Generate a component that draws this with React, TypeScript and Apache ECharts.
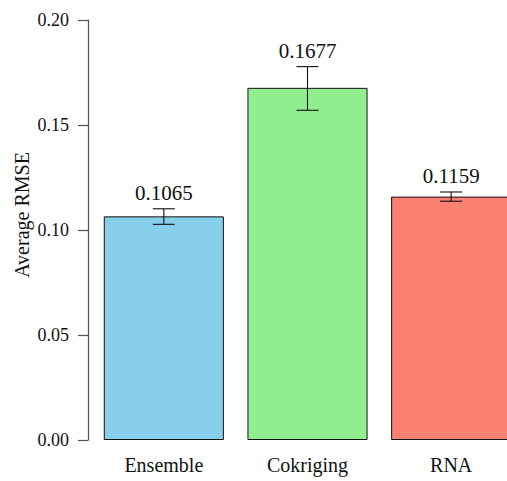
import React, { useEffect, useRef } from "react";
import * as echarts from "echarts";

const categories = ["Ensemble", "Cokriging", "RNA"];
const meanValues = [0.1065, 0.1677, 0.1159];
const errLow = [0.1027, 0.157, 0.1137];
const errHigh = [0.1101, 0.1778, 0.1181];
const barColors = ["#87CEEB", "#90EE90", "#FA8072"];
const yTicks = [0, 0.05, 0.1, 0.15, 0.2];

const FONT = "Liberation Serif";

export default function App() {
  const ref = useRef<HTMLDivElement>(null);
  useEffect(() => {
    if (!ref.current) return;
    const chart = echarts.init(ref.current, undefined, { renderer: "svg" });
    const errData = categories.map((_, i) => [i, errLow[i], errHigh[i], meanValues[i]]);
    chart.setOption({
      animation: false,
      grid: { left: 92, right: 0, top: 20, bottom: 41 },
      xAxis: {
        type: "category",
        data: categories,
        axisLine: { show: false },
        axisTick: { show: false },
        axisLabel: { color: "#111", fontFamily: FONT, fontSize: 20, margin: 15 },
      },
      yAxis: {
        type: "value",
        min: 0,
        max: 0.2,
        interval: 0.05,
        offset: 4,
        axisLine: { show: true, lineStyle: { color: "#555", width: 1.25 } },
        axisTick: { show: true, length: 10, lineStyle: { color: "#555", width: 1.25 } },
        splitLine: { show: false },
        axisLabel: {
          color: "#111",
          fontFamily: FONT,
          fontSize: 18,
          margin: 19,
          formatter: (v: number) => {
            const t = yTicks.find((x) => Math.abs(x - v) < 1e-9);
            return (t !== undefined ? t : v).toFixed(2);
          },
        },
      },
      graphic: [
        {
          type: "text",
          x: 22,
          y: 215,
          rotation: Math.PI / 2,
          style: {
            text: "Average RMSE",
            fontFamily: FONT,
            fontSize: 20,
            fill: "#111",
            align: "center",
            verticalAlign: "middle",
          },
        },
      ],
      series: [
        {
          type: "bar",
          barCategoryGap: "16.4%",
          data: meanValues.map((v, i) => ({
            value: v,
            itemStyle: { color: barColors[i], borderColor: "#111", borderWidth: 1 },
          })),
        },
        {
          type: "custom",
          data: errData,
          z: 10,
          renderItem: (params: any, api: any) => {
            const idx = api.value(0);
            const lo = api.coord([idx, api.value(1)]);
            const hi = api.coord([idx, api.value(2)]);
            const mean = api.value(3);
            const x = hi[0];
            const cap = 11;
            const ls = { stroke: "#111", lineWidth: 1.1 };
            return {
              type: "group",
              children: [
                { type: "line", shape: { x1: x, y1: hi[1], x2: x, y2: lo[1] }, style: ls },
                { type: "line", shape: { x1: x - cap, y1: hi[1], x2: x + cap, y2: hi[1] }, style: ls },
                { type: "line", shape: { x1: x - cap, y1: lo[1], x2: x + cap, y2: lo[1] }, style: ls },
                {
                  type: "text",
                  x: x,
                  y: hi[1] - 5,
                  style: {
                    text: mean.toFixed(4),
                    fontFamily: FONT,
                    fontSize: 21,
                    fill: "#111",
                    align: "center",
                    verticalAlign: "bottom",
                  },
                },
              ],
            };
          },
        },
      ],
    });
    return () => chart.dispose();
  }, []);
  return (
    <div style={{ position: "absolute", left: 0, top: 0, width: 507, height: 481, overflow: "hidden" }}>
      <div ref={ref} style={{ width: 523, height: 481 }} />
    </div>
  );
}
